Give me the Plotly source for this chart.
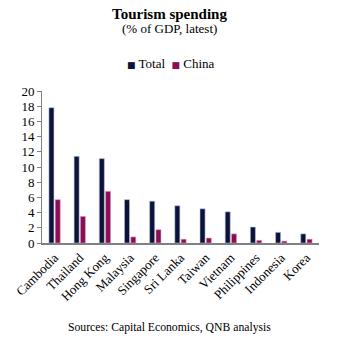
import plotly.graph_objects as go

countries = ["Cambodia", "Thailand", "Hong Kong", "Malaysia", "Singapore", "Sri Lanka",
             "Taiwan", "Vietnam", "Philippines", "Indonesia", "Korea"]
total = [17.8, 11.4, 11.1, 5.7, 5.5, 4.9, 4.5, 4.1, 2.1, 1.4, 1.2]
china = [5.7, 3.5, 6.8, 0.8, 1.75, 0.5, 0.65, 1.2, 0.35, 0.25, 0.5]
yticks = [0, 2, 4, 6, 8, 10, 12, 14, 16, 18, 20]

FONT = "Liberation Serif, Times New Roman, serif"
C_TOTAL = "#0b1438"
C_CHINA = "#8c0c55"

fig = go.Figure()
fig.add_trace(go.Bar(x=countries, y=total, name="Total",
                     marker=dict(color=C_TOTAL, line=dict(color="#b8c0d8", width=0.6))))
fig.add_trace(go.Bar(x=countries, y=china, name="China",
                     marker=dict(color=C_CHINA, line=dict(color="#d8a8c0", width=0.6))))

L, R, T, B = 42, 33, 91, 100
W, HH = 352, 343
H = HH - T - B
PW = W - L - R

def ypaper(py):
    return (HH - B - py) / H

def xpaper(px):
    return (px - L) / PW

fig.update_layout(
    width=W, height=HH,
    margin=dict(l=L, r=R, t=T, b=B),
    paper_bgcolor="white", plot_bgcolor="white",
    font=dict(family=FONT, color="black", size=13),
    barmode="group", bargap=0.5, bargroupgap=0.2,
    showlegend=False,
)
xc = xpaper(169)
fig.add_annotation(text="<b>Tourism spending</b>", x=xc, xref="paper", xanchor="center",
                   y=ypaper(14), yref="paper", yanchor="middle", showarrow=False,
                   font=dict(size=15, family=FONT, color="black"))
fig.add_annotation(text="(% of GDP, latest)", x=xc, xref="paper", xanchor="center",
                   y=ypaper(29), yref="paper", yanchor="middle", showarrow=False,
                   font=dict(size=13, family=FONT, color="black"))
SQ = "font-family:DejaVu Sans;font-size:9px"
fig.add_annotation(
    text=(f'<span style="color:{C_TOTAL};{SQ}">■</span> Total&nbsp;&nbsp;'
          f'<span style="color:{C_CHINA};{SQ}">■</span> China'),
    x=xpaper(171), xref="paper", xanchor="center",
    y=ypaper(63), yref="paper", yanchor="middle", showarrow=False,
    font=dict(size=13, family=FONT, color="black"))
fig.add_annotation(text="Sources: Capital Economics, QNB analysis", x=xc, xref="paper",
                   xanchor="center", y=ypaper(327), yref="paper", yanchor="middle",
                   showarrow=False, font=dict(size=11.7, family=FONT, color="black"))

fig.update_yaxes(range=[0, 20], tickvals=yticks, showgrid=False, zeroline=False,
                 showline=True, linecolor="#808080", linewidth=1,
                 ticks="outside", ticklen=4, tickcolor="#808080",
                 tickfont=dict(size=13, family=FONT, color="black"), fixedrange=True)
fig.update_xaxes(showgrid=False, showline=True, linecolor="#808080", linewidth=2,
                 ticks="", tickangle=-45, tickfont=dict(size=13, family=FONT, color="black"))

fig.write_html("out.html")
